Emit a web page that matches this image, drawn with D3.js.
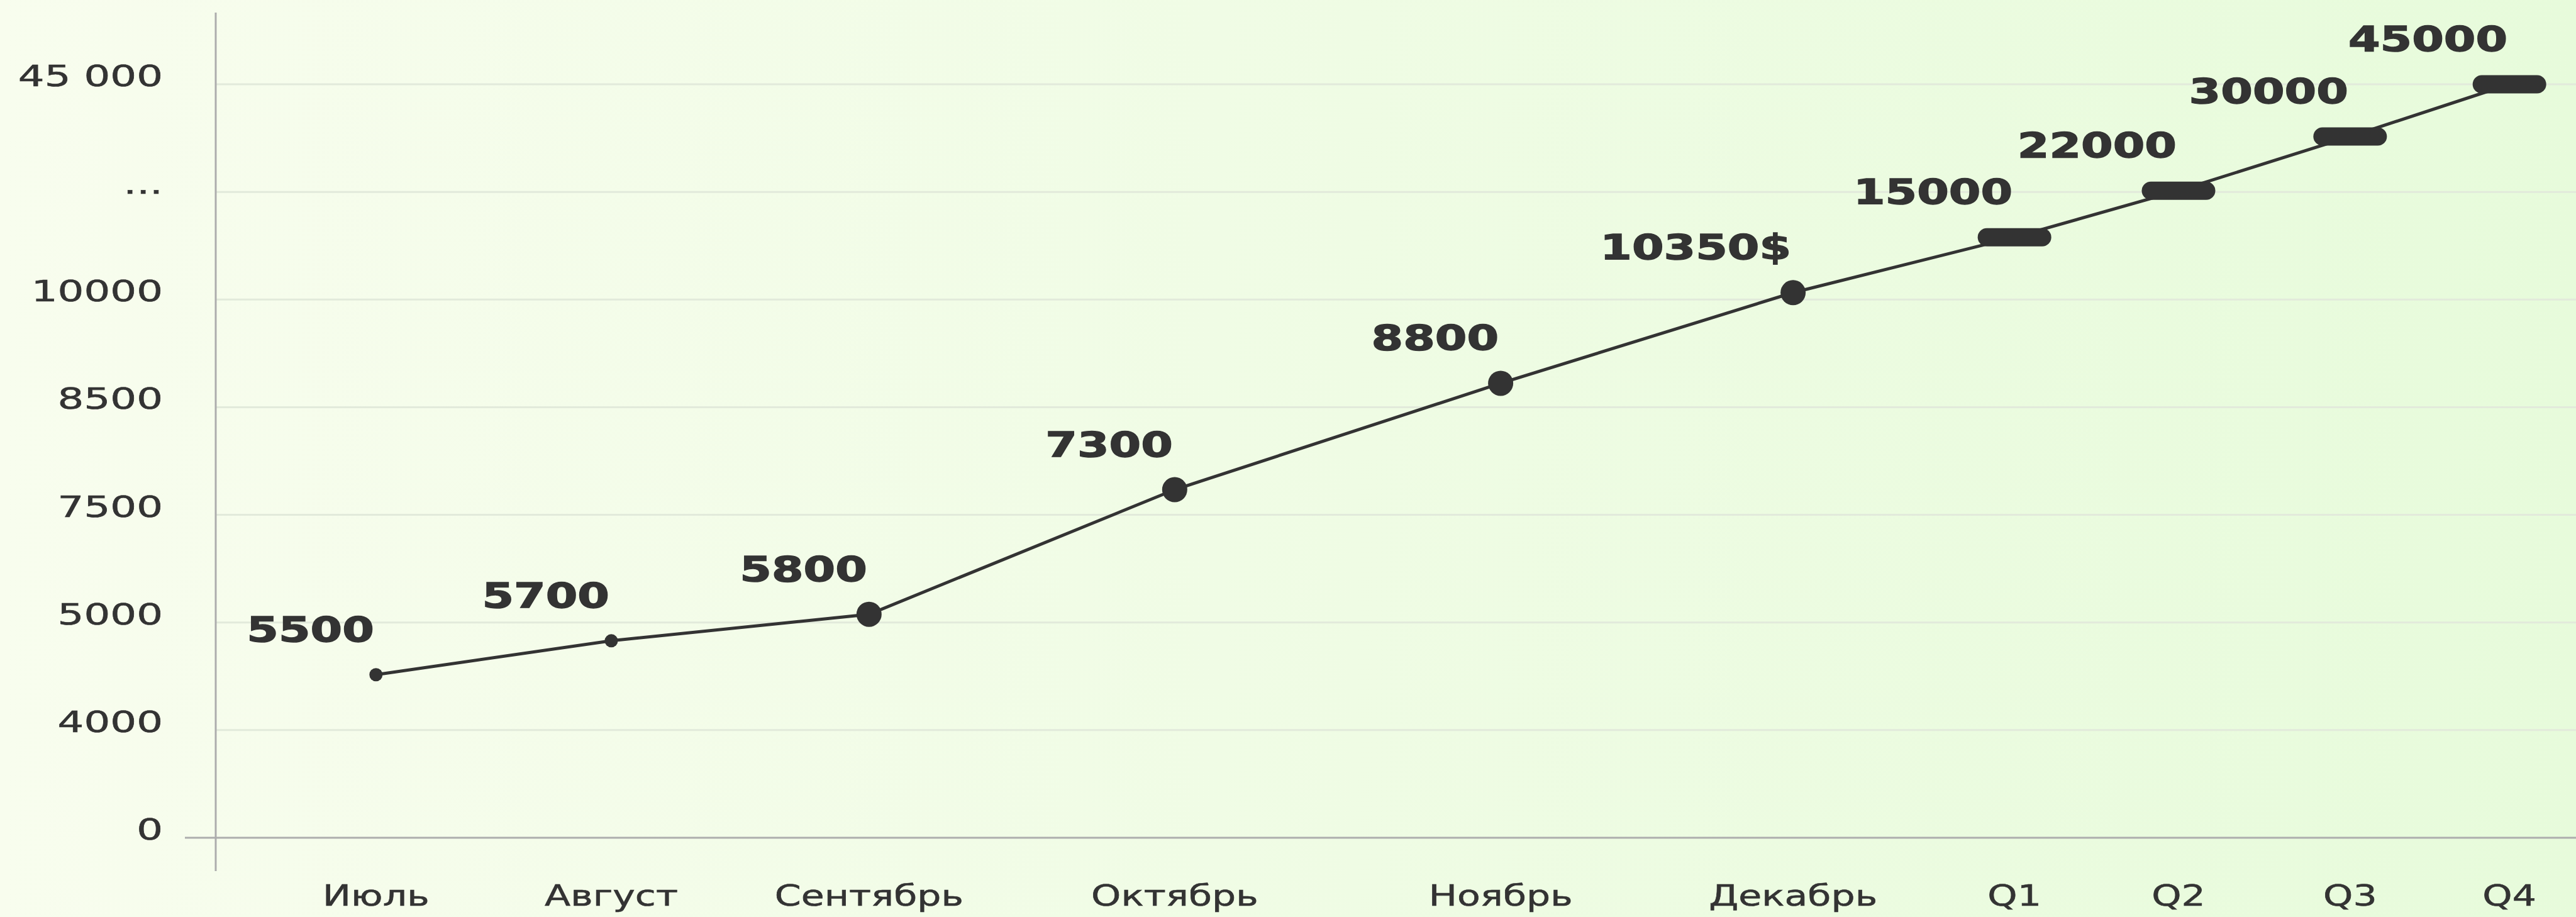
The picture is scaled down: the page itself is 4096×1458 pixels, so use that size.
<!DOCTYPE html>
<html>
<head>
<meta charset="utf-8">
<script src="https://cdn.jsdelivr.net/npm/d3@7"></script>
<style>
  html, body { margin: 0; padding: 0; background: #f3fce7; }
  svg { display: block; }
</style>
</head>
<body>
<svg id="chart" width="4096" height="1458"></svg>
<script>
document.addEventListener("DOMContentLoaded", () => {
  "use strict";

  // categories along the bottom
  const CATEGORIES = ["Июль", "Август", "Сентябрь", "Октябрь", "Ноябрь", "Декабрь", "Q1", "Q2", "Q3", "Q4"];
  // text printed above each point
  const VALUE_LABELS = ["5500", "5700", "5800", "7300", "8800", "10350$", "15000", "22000", "30000", "45000"];
  // where each point sits on the (uneven) y axis
  const PLOT_VALUES = [4515, 4830, 5190, 7734, 8833, 10772, 16950, 22270, 33830, 45000];
  // horizontal position of each category, percent of the plot width
  const X_POS = [6.79, 16.76, 27.68, 40.63, 54.44, 66.83, 76.21, 83.16, 90.43, 97.18];
  const MARKERS = ["small", "small", "large", "large", "large", "large", "pill", "pill", "pill", "pill"];

  const Y_TICKS = [0, 4000, 5000, 7500, 8500, 10000, 22000, 45000];
  const Y_TICK_LABELS = ["0", "4000", "5000", "7500", "8500", "10000", "...", "45 000"];

  const DATA = CATEGORIES.map((c, i) => ({
    cat: c, label: VALUE_LABELS[i], val: PLOT_VALUES[i], pos: X_POS[i], kind: MARKERS[i]
  }));

  const INK = "#333333";
  const FONT = "'DejaVu Sans', 'Open Sans', sans-serif";

  const svg = d3.select("#chart");
  const W = +svg.attr("width");
  const H = +svg.attr("height");
  const M = { left: 343, right: 0, top: 134, bottom: 126 };
  const x0 = M.left, x1 = W - M.right;
  const yBottom = H - M.bottom, yTop = M.top;

  // background wash
  const defs = svg.append("defs");
  const grad = defs.append("linearGradient").attr("id", "bg")
    .attr("x1", 0).attr("y1", 0).attr("x2", 1).attr("y2", 0);
  grad.append("stop").attr("offset", "0%").attr("stop-color", "#f8fdee");
  grad.append("stop").attr("offset", "100%").attr("stop-color", "#e7fbdb");
  svg.append("rect").attr("width", W).attr("height", H).attr("fill", "url(#bg)");

  const x = d3.scaleLinear().domain([0, 100]).range([x0, x1]);
  const step = (yBottom - yTop) / (Y_TICKS.length - 1);
  const y = d3.scaleLinear()
    .domain(Y_TICKS)
    .range(Y_TICKS.map((_, i) => yBottom - i * step));

  // grid
  svg.append("g").selectAll("line.grid").data(Y_TICKS.slice(1)).join("line")
    .attr("class", "grid")
    .attr("x1", x0).attr("x2", x1)
    .attr("y1", d => y(d)).attr("y2", d => y(d))
    .attr("stroke", "#e2eadb").attr("stroke-width", 3);

  // axes
  svg.append("line")
    .attr("x1", x0 - 49).attr("x2", x1)
    .attr("y1", y(0)).attr("y2", y(0))
    .attr("stroke", "#adadad").attr("stroke-width", 3);
  svg.append("line")
    .attr("x1", x0).attr("x2", x0)
    .attr("y1", 20).attr("y2", y(0) + 53)
    .attr("stroke", "#adadad").attr("stroke-width", 3);

  // y tick labels
  svg.append("g").selectAll("text.ytick").data(Y_TICKS).join("text")
    .attr("class", "ytick")
    .attr("transform", d => `translate(${x0 - 84},${y(d) + 3}) scale(1.4,1)`)
    .attr("text-anchor", "end")
    .attr("font-family", FONT)
    .attr("font-size", 47)
    .attr("fill", INK)
    .attr("stroke", INK).attr("stroke-width", 0.6)
    .text((d, i) => Y_TICK_LABELS[i]);

  // x category labels
  svg.append("g").selectAll("text.xtick").data(DATA).join("text")
    .attr("class", "xtick")
    .attr("transform", d => `translate(${x(d.pos)},${y(0) + 108}) scale(1.28,1)`)
    .attr("text-anchor", "middle")
    .attr("font-family", FONT)
    .attr("font-size", 47)
    .attr("fill", INK)
    .attr("stroke", INK).attr("stroke-width", 0.6)
    .text(d => d.cat);

  // line
  const line = d3.line().x(d => x(d.pos)).y(d => y(d.val));
  svg.append("path").datum(DATA)
    .attr("d", line)
    .attr("fill", "none")
    .attr("stroke", INK)
    .attr("stroke-width", 5);

  // markers
  const R = { small: 10.5, large: 20 };
  svg.append("g").selectAll("circle.pt").data(DATA.filter(d => d.kind !== "pill")).join("circle")
    .attr("class", "pt")
    .attr("cx", d => x(d.pos))
    .attr("cy", d => y(d.val))
    .attr("r", d => R[d.kind])
    .attr("fill", INK);

  const PW = 117, PH = 29;
  svg.append("g").selectAll("rect.pill").data(DATA.filter(d => d.kind === "pill")).join("rect")
    .attr("class", "pill")
    .attr("x", d => x(d.pos) - PW / 2)
    .attr("y", d => y(d.val) - PH / 2)
    .attr("width", PW).attr("height", PH)
    .attr("rx", PH / 2).attr("ry", PH / 2)
    .attr("fill", INK);

  // value labels
  svg.append("g").selectAll("text.val").data(DATA).join("text")
    .attr("class", "val")
    .attr("transform", d => `translate(${x(d.pos) - 3},${y(d.val) - 53}) scale(1.3,1)`)
    .attr("text-anchor", "end")
    .attr("font-family", FONT)
    .attr("font-weight", "bold")
    .attr("font-size", 56)
    .attr("fill", INK)
    .attr("stroke", INK).attr("stroke-width", 1.4)
    .text(d => d.label);
});
</script>
</body>
</html>
